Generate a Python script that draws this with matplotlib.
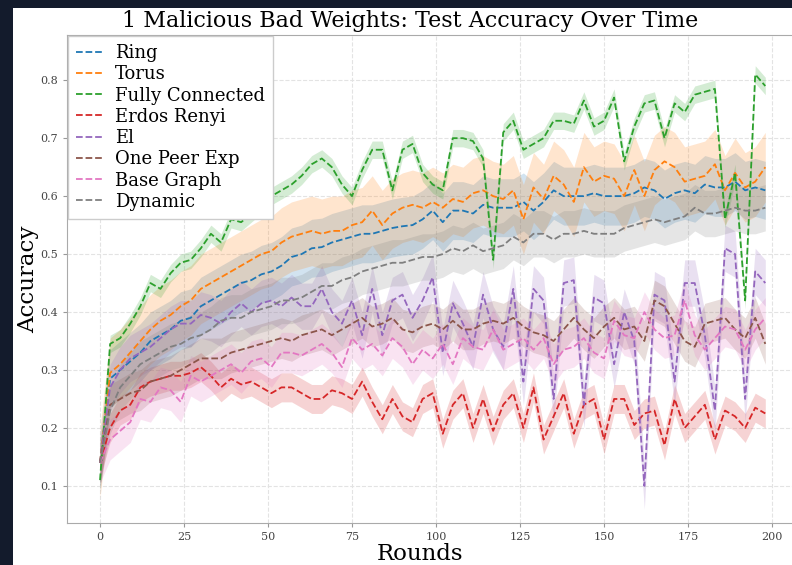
import matplotlib.pyplot as plt
from matplotlib.patches import Rectangle

# rounds sampled every 3 rounds
rounds = list(range(0, 199, 3))

ring = [0.14, 0.285, 0.30, 0.315, 0.33, 0.35, 0.36, 0.37, 0.385, 0.39,
        0.41, 0.42, 0.43, 0.44, 0.45, 0.455, 0.465, 0.47, 0.48, 0.495,
        0.50, 0.51, 0.512, 0.52, 0.525, 0.53, 0.535, 0.535, 0.54, 0.545,
        0.548, 0.55, 0.56, 0.575, 0.555, 0.575, 0.575, 0.57, 0.585, 0.58,
        0.58, 0.58, 0.59, 0.575, 0.59, 0.61, 0.60, 0.60, 0.60, 0.605,
        0.60, 0.60, 0.60, 0.605, 0.615, 0.61, 0.595, 0.605, 0.61, 0.605,
        0.62, 0.615, 0.615, 0.625, 0.61, 0.615, 0.61]
torus = [0.14, 0.295, 0.31, 0.33, 0.35, 0.37, 0.385, 0.395, 0.41, 0.42,
         0.44, 0.45, 0.46, 0.47, 0.48, 0.49, 0.50, 0.505, 0.52, 0.53,
         0.535, 0.54, 0.535, 0.54, 0.54, 0.55, 0.555, 0.575, 0.55, 0.57,
         0.58, 0.585, 0.58, 0.59, 0.58, 0.595, 0.59, 0.605, 0.61, 0.60,
         0.595, 0.61, 0.56, 0.615, 0.595, 0.635, 0.62, 0.59, 0.65, 0.625,
         0.635, 0.63, 0.60, 0.645, 0.60, 0.645, 0.66, 0.65, 0.625, 0.63,
         0.635, 0.655, 0.61, 0.64, 0.615, 0.625, 0.65]
fully_connected = [0.11, 0.345, 0.355, 0.38, 0.41, 0.45, 0.44, 0.467, 0.485, 0.49,
                   0.51, 0.535, 0.52, 0.56, 0.555, 0.57, 0.585, 0.60, 0.61, 0.62,
                   0.635, 0.655, 0.665, 0.65, 0.62, 0.60, 0.645, 0.68, 0.68, 0.61,
                   0.68, 0.69, 0.64, 0.62, 0.61, 0.70, 0.70, 0.695, 0.665, 0.49,
                   0.71, 0.73, 0.68, 0.69, 0.70, 0.73, 0.73, 0.725, 0.765, 0.72,
                   0.73, 0.77, 0.66, 0.72, 0.76, 0.765, 0.70, 0.76, 0.745, 0.775,
                   0.78, 0.785, 0.56, 0.64, 0.42, 0.81, 0.79]
erdos_renyi = [0.14, 0.20, 0.23, 0.24, 0.27, 0.28, 0.285, 0.29, 0.29, 0.295,
               0.305, 0.29, 0.27, 0.285, 0.275, 0.28, 0.27, 0.26, 0.27, 0.27,
               0.26, 0.25, 0.25, 0.265, 0.26, 0.25, 0.28, 0.245, 0.215, 0.25,
               0.22, 0.21, 0.25, 0.26, 0.19, 0.24, 0.26, 0.20, 0.25, 0.195,
               0.24, 0.26, 0.20, 0.27, 0.18, 0.22, 0.26, 0.19, 0.24, 0.25,
               0.18, 0.25, 0.25, 0.205, 0.225, 0.23, 0.17, 0.25, 0.20, 0.22,
               0.24, 0.18, 0.23, 0.22, 0.20, 0.235, 0.225]
el = [0.14, 0.27, 0.30, 0.32, 0.33, 0.34, 0.355, 0.37, 0.38, 0.38,
      0.395, 0.39, 0.38, 0.40, 0.415, 0.40, 0.415, 0.42, 0.41, 0.425,
      0.41, 0.41, 0.44, 0.40, 0.38, 0.42, 0.36, 0.44, 0.36, 0.42,
      0.43, 0.39, 0.42, 0.46, 0.33, 0.415, 0.38, 0.34, 0.43, 0.37,
      0.34, 0.44, 0.28, 0.44, 0.42, 0.25, 0.45, 0.455, 0.24, 0.425,
      0.415, 0.31, 0.40, 0.35, 0.10, 0.43, 0.42, 0.28, 0.45, 0.45,
      0.36, 0.23, 0.51, 0.50, 0.25, 0.47, 0.45]
one_peer_exp = [0.14, 0.24, 0.25, 0.26, 0.265, 0.28, 0.285, 0.29, 0.30, 0.31,
                0.32, 0.32, 0.32, 0.33, 0.335, 0.34, 0.345, 0.35, 0.355, 0.35,
                0.36, 0.365, 0.37, 0.36, 0.37, 0.38, 0.39, 0.375, 0.38, 0.39,
                0.37, 0.365, 0.375, 0.38, 0.37, 0.385, 0.37, 0.37, 0.38, 0.385,
                0.38, 0.39, 0.375, 0.365, 0.36, 0.35, 0.37, 0.39, 0.37, 0.355,
                0.375, 0.39, 0.37, 0.375, 0.35, 0.42, 0.41, 0.38, 0.35, 0.34,
                0.38, 0.385, 0.39, 0.37, 0.355, 0.39, 0.345]
base_graph = [0.14, 0.18, 0.195, 0.21, 0.25, 0.245, 0.27, 0.265, 0.245, 0.29,
              0.28, 0.29, 0.30, 0.31, 0.295, 0.315, 0.32, 0.305, 0.33, 0.33,
              0.325, 0.335, 0.345, 0.33, 0.305, 0.355, 0.335, 0.345, 0.325, 0.355,
              0.34, 0.31, 0.335, 0.32, 0.345, 0.31, 0.355, 0.34, 0.335, 0.37,
              0.335, 0.345, 0.355, 0.335, 0.355, 0.31, 0.335, 0.34, 0.355, 0.33,
              0.32, 0.385, 0.36, 0.355, 0.40, 0.37, 0.355, 0.36, 0.42, 0.36,
              0.335, 0.355, 0.375, 0.37, 0.335, 0.37, 0.39]
dynamic = [0.14, 0.23, 0.27, 0.29, 0.31, 0.32, 0.33, 0.34, 0.345, 0.355,
           0.36, 0.37, 0.385, 0.39, 0.39, 0.40, 0.405, 0.41, 0.42, 0.42,
           0.425, 0.435, 0.445, 0.445, 0.455, 0.46, 0.47, 0.475, 0.48, 0.485,
           0.485, 0.49, 0.495, 0.495, 0.50, 0.51, 0.505, 0.515, 0.505, 0.51,
           0.515, 0.53, 0.52, 0.535, 0.535, 0.525, 0.535, 0.535, 0.54, 0.535,
           0.535, 0.535, 0.545, 0.55, 0.555, 0.56, 0.555, 0.56, 0.565, 0.58,
           0.57, 0.57, 0.575, 0.58, 0.575, 0.575, 0.58]

labels = ['Ring', 'Torus', 'Fully Connected', 'Erdos Renyi', 'El',
          'One Peer Exp', 'Base Graph', 'Dynamic']
series = [ring, torus, fully_connected, erdos_renyi, el,
          one_peer_exp, base_graph, dynamic]
# rough half-width of the confidence band for each topology
band = [0.05, 0.06, 0.015, 0.025, 0.04, 0.035, 0.035, 0.04]
colors = ['#1f77b4', '#ff7f0e', '#2ca02c', '#d62728', '#9467bd',
          '#8c564b', '#e377c2', '#7f7f7f']

plt.rcParams['font.family'] = 'DejaVu Serif'

fig = plt.figure(figsize=(7.92, 5.65), dpi=100, facecolor='#131b2c')
# white page inside the dark screenshot frame
fig.add_artist(Rectangle((13 / 792, 0), 1, 557 / 565, transform=fig.transFigure,
                         facecolor='white', edgecolor='none', zorder=0))
ax = fig.add_axes([66.6 / 792, 42 / 565, 735.5 / 792, 488 / 565])

for vals, hw, c, lab in zip(series, band, colors, labels):
    lo = [v - hw for v in vals]
    hi = [v + hw for v in vals]
    ax.fill_between(rounds, lo, hi, color=c, alpha=0.2, linewidth=0)
    ax.plot(rounds, vals, '--', color=c, linewidth=1.3, label=lab)

ax.set_xlim(-9.95, 208.95)
ax.set_ylim(0.036, 0.878)
ax.set_xticks(range(0, 201, 25))
ax.set_yticks([0.1, 0.2, 0.3, 0.4, 0.5, 0.6, 0.7, 0.8])
ax.grid(True, linestyle='--', color='#e3e3e3', linewidth=0.8)
ax.set_axisbelow(True)
for s in ax.spines.values():
    s.set_color('#aaaaaa')
ax.tick_params(labelsize=8, colors='#444444', length=3, color='#999999')

ax.set_xlabel('Rounds', fontsize=16.5)
ax.xaxis.set_label_coords(0.4805, -0.041)
ax.set_ylabel('Accuracy', fontsize=16.5)
ax.yaxis.set_label_coords(-0.0375, 0.5)
fig.text(410 / 792, 1 - 21 / 565, '1 Malicious Bad Weights: Test Accuracy Over Time',
         ha='center', va='center', fontsize=16)

ax.legend(loc='upper left', fontsize=13, borderaxespad=0.05, labelspacing=0.18,
          handlelength=1.55, handletextpad=0.65, borderpad=0.45,
          framealpha=1, edgecolor='#cccccc', fancybox=False)

plt.savefig('out.png', dpi=100, facecolor=fig.get_facecolor())
